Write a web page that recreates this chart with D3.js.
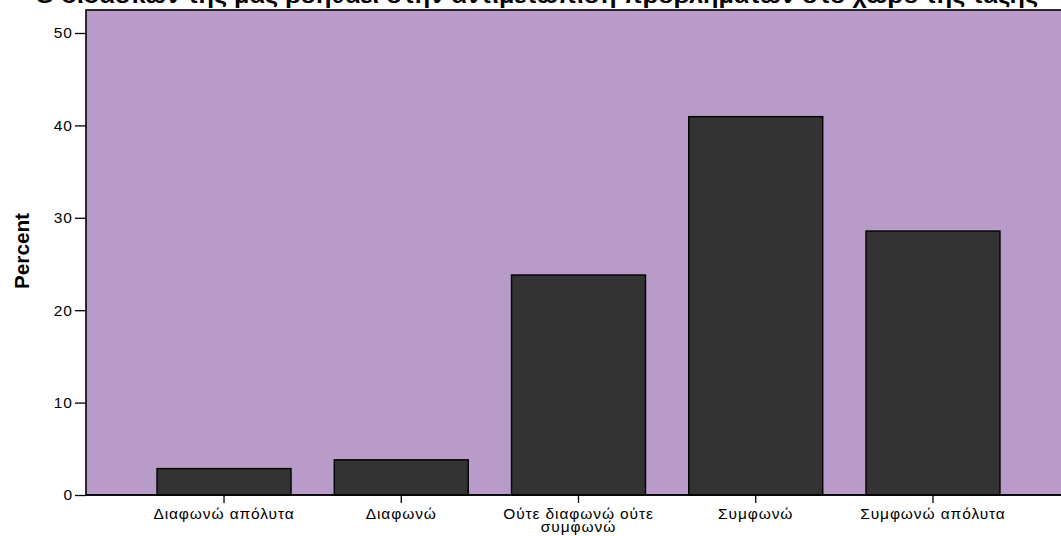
<!DOCTYPE html>
<html>
<head>
<meta charset="utf-8">
<script src="https://cdn.jsdelivr.net/npm/d3@7"></script>
<style>
  html, body { margin: 0; padding: 0; background: #ffffff; }
  svg { display: block; }
</style>
</head>
<body>
<svg id="chart" width="1061" height="536"></svg>
<script>
// Response categories (Likert scale)
const categories = [
  ["Διαφωνώ απόλυτα"],
  ["Διαφωνώ"],
  ["Ούτε διαφωνώ ούτε", "συμφωνώ"],
  ["Συμφωνώ"],
  ["Συμφωνώ απόλυτα"]
];
// Percent of respondents per category
const percents = [2.86, 3.81, 23.81, 40.95, 28.57];
// Y axis ticks
const yTicks = [0, 10, 20, 30, 40, 50];
const titleText = "Ο διδάσκων της μας βοηθάει στην αντιμετώπιση προβλημάτων στο χώρο της τάξης";
const yLabel = "Percent";

const svg = d3.select("#chart");
const plot = { left: 86, top: 10, right: 1075, bottom: 495 };
const bodyFont = "'Liberation Sans', Arial, sans-serif";

const keys = categories.map(c => c.join(" "));

const y = d3.scaleLinear()
  .domain([0, 50])
  .range([plot.bottom, 33]);

const x = d3.scaleBand()
  .domain(keys)
  .range([135.4, 1021.6])
  .paddingInner(0.244)
  .paddingOuter(0.122);

// Plot background
svg.append("rect")
  .attr("x", plot.left)
  .attr("y", plot.top)
  .attr("width", plot.right - plot.left)
  .attr("height", plot.bottom - plot.top)
  .attr("fill", "#b89bc8")
  .attr("stroke", "#000")
  .attr("stroke-width", 1.6);

// Bars
svg.append("g")
  .selectAll("rect")
  .data(percents)
  .join("rect")
  .attr("x", (d, i) => x(keys[i]))
  .attr("y", d => y(d))
  .attr("width", x.bandwidth())
  .attr("height", d => y(0) - y(d))
  .attr("fill", "#333333")
  .attr("stroke", "#000")
  .attr("stroke-width", 1.4);

// Y axis
const yAxis = svg.append("g")
  .attr("transform", `translate(${plot.left},0)`)
  .call(d3.axisLeft(y).tickValues(yTicks).tickSize(11).tickPadding(2).tickFormat(d3.format("d")));
yAxis.select(".domain").remove();
yAxis.selectAll(".tick line").attr("stroke", "#000").attr("stroke-width", 1.3);
yAxis.selectAll(".tick text")
  .attr("fill", "#000")
  .style("font-family", bodyFont)
  .style("font-size", "15.5px")
  .style("letter-spacing", "1px");

// X axis
const xAxis = svg.append("g")
  .attr("transform", `translate(0,${plot.bottom})`)
  .call(d3.axisBottom(x).tickSize(8).tickFormat(() => ""));
xAxis.select(".domain").remove();
xAxis.selectAll(".tick line").attr("stroke", "#000").attr("stroke-width", 1.3);

// Baseline along the bottom of the plot
svg.append("line")
  .attr("x1", plot.left).attr("x2", plot.right)
  .attr("y1", plot.bottom).attr("y2", plot.bottom)
  .attr("stroke", "#000").attr("stroke-width", 1.6);

// Category labels (may wrap on two lines)
const labels = svg.append("g")
  .style("font-family", bodyFont)
  .style("font-size", "15.5px")
  .style("letter-spacing", "0.9px")
  .attr("fill", "#000")
  .attr("text-anchor", "middle");
categories.forEach((lines, i) => {
  const cx = x(keys[i]) + x.bandwidth() / 2;
  const t = labels.append("text").attr("x", cx).attr("y", 519);
  lines.forEach((ln, j) => {
    t.append("tspan").attr("x", cx).attr("dy", j === 0 ? 0 : 12.5).text(ln);
  });
});

// Y axis title
svg.append("text")
  .attr("transform", `translate(29,251) rotate(-90)`)
  .attr("text-anchor", "middle")
  .attr("textLength", 76)
  .attr("lengthAdjust", "spacingAndGlyphs")
  .style("font-family", "'Liberation Sans Narrow', 'Liberation Sans', Arial, sans-serif")
  .style("font-weight", "bold")
  .style("font-size", "20px")
  .attr("fill", "#000")
  .text(yLabel);

// Chart title (top edge clipped by the page)
svg.append("text")
  .attr("x", 35)
  .attr("y", 3)
  .attr("textLength", 1003)
  .attr("lengthAdjust", "spacingAndGlyphs")
  .style("font-family", bodyFont)
  .style("font-weight", "bold")
  .style("font-size", "22px")
  .attr("fill", "#000")
  .text(titleText);
</script>
</body>
</html>
